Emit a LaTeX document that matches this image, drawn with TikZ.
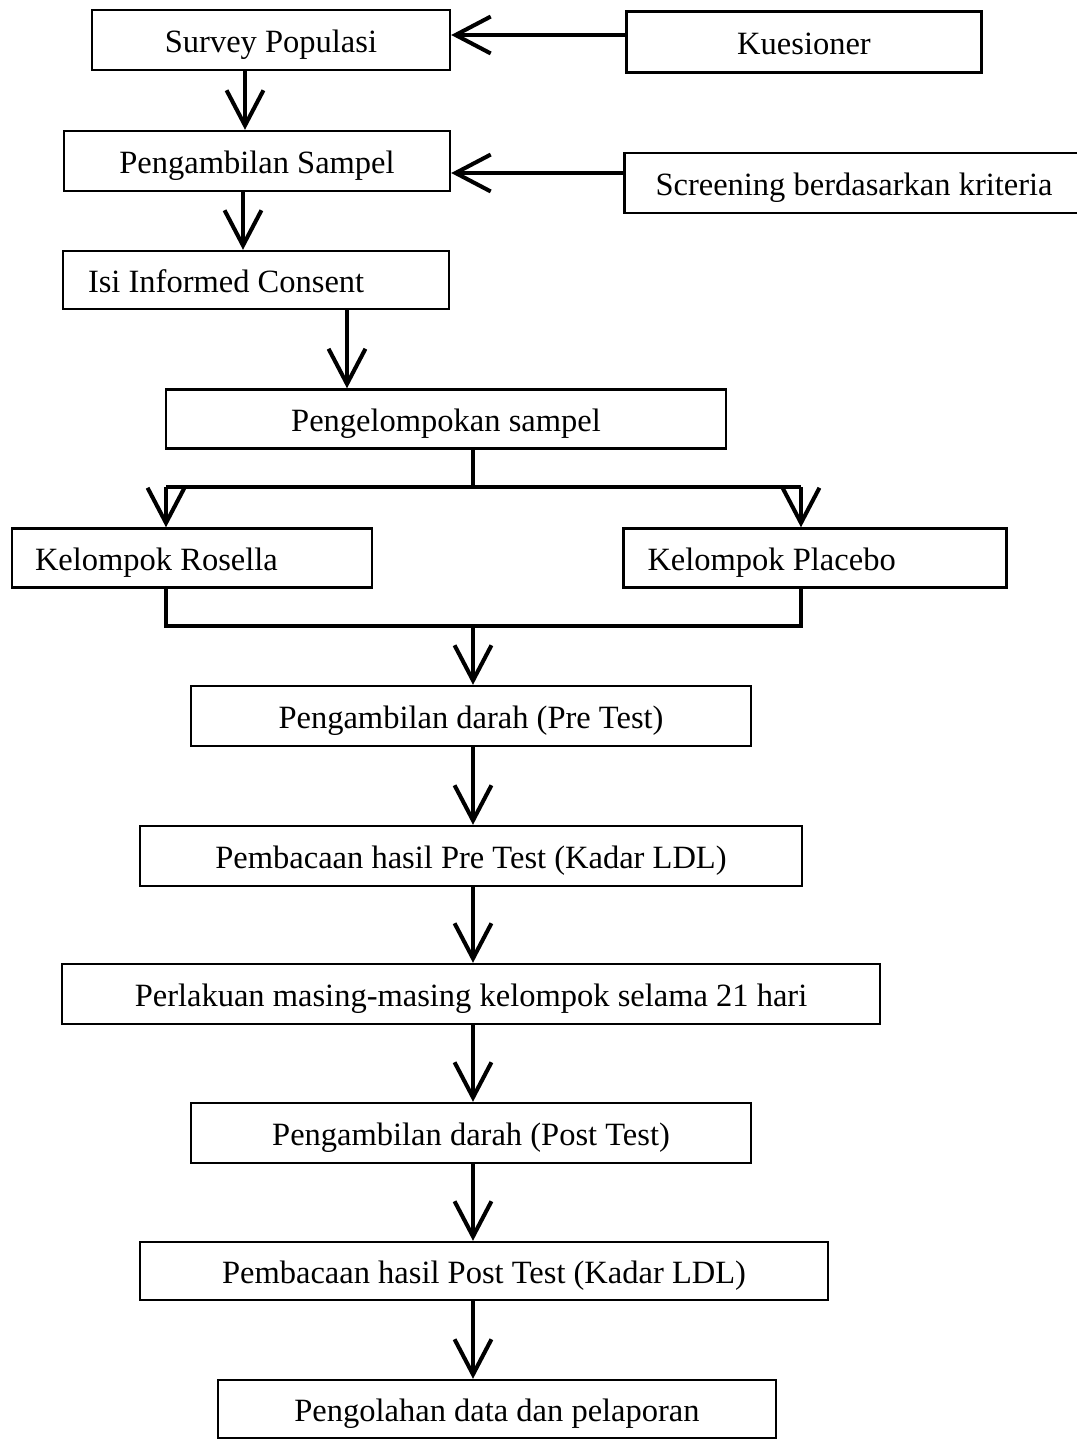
\documentclass[tikz,border=0pt]{standalone}
\usepackage{fontspec}
\setmainfont{Liberation Serif}
\usetikzlibrary{positioning,calc,arrows.meta}
\newcommand{\px}{0.02cm}

\begin{document}
\begin{tikzpicture}[x=0.02cm, y=-0.02cm,
    box/.style={draw, line width=1.4pt, minimum height=60*\px, inner ysep=0pt,
        text height=14pt, text depth=0pt, font=\fontsize{18.5}{22}\selectfont},
    lbox/.style={box, align=flush left},
    line/.style={line width=2.3pt},
    arr/.style={line width=2.3pt, -{Straight Barb[length=20pt,width=21pt]}}]
    \useasboundingbox (0,0) rectangle (1076,1444);

    % Top part
    \node[box, minimum width=358*\px] (survey) at (271,40) {Survey Populasi};
    \node[box, minimum width=355*\px, minimum height=61*\px] (kues) at (804,42) {Kuesioner};
    \node[box, minimum width=386*\px] (sampel) at (257,161) {Pengambilan Sampel};
    \node[lbox, inner xsep=31*\px, text width=413*\px] (screen) at (862,183) {Screening berdasarkan kriteria};
    \node[lbox, minimum height=58*\px, inner xsep=25*\px, text width=336*\px] (consent) at (256,280) {Isi Informed Consent};

    % Groups
    \node[box, minimum width=560*\px, minimum height=59*\px] (kelompok) at (446,419) {Pengelompokan sampel};
    \node[lbox, minimum height=59*\px, inner xsep=23*\px, text width=314*\px] (rosella) at (192,558) {Kelompok Rosella};
    \node[lbox, minimum height=59*\px, inner xsep=24*\px, text width=335*\px] (placebo) at (815,558) {Kelompok Placebo};

    % Tests
    \node[box, minimum width=560*\px] (pre) at (471,716) {Pengambilan darah (Pre Test)};
    \node[box, minimum width=662*\px] (bacapre) at (471,856) {Pembacaan hasil Pre Test (Kadar LDL)};
    \node[box, minimum width=818*\px] (perlakuan) at (471,994) {Perlakuan masing-masing kelompok selama 21 hari};
    \node[box, minimum width=560*\px] (post) at (471,1133) {Pengambilan darah (Post Test)};
    \node[box, minimum width=688*\px, minimum height=58*\px] (bacapost) at (484,1271) {Pembacaan hasil Post Test (Kadar LDL)};
    \node[box, minimum width=558*\px, minimum height=58*\px] (olah) at (497,1409) {Pengolahan data dan pelaporan};

    % Columns of the arrows
    \coordinate (colA) at (245,0);
    \coordinate (colB) at (243,0);
    \coordinate (colC) at (347,0);
    \coordinate (fork) at (473,487);
    \coordinate (forkL) at (166,487);
    \coordinate (forkR) at (801,487);
    \coordinate (join) at (473,626);
    \coordinate (joinL) at (166,626);
    \coordinate (joinR) at (801,626);

    % Side inputs
    \draw[arr] (kues.west |- 0,35) -- (survey.east |- 0,35);
    \draw[arr] (screen.west |- 0,173) -- (sampel.east |- 0,173);

    % Main flow
    \draw[arr] (survey.south -| colA) -- (sampel.north -| colA);
    \draw[arr] (sampel.south -| colB) -- (consent.north -| colB);
    \draw[arr] (consent.south -| colC) -- (kelompok.north -| colC);
    \draw[line] (kelompok.south -| fork) -- (fork);
    \draw[line] (forkL) -- (forkR);
    \draw[arr] (forkL) -- (rosella.north -| forkL);
    \draw[arr] (forkR) -- (placebo.north -| forkR);
    \draw[line] (rosella.south -| joinL) -- (joinL) -- (joinR) -- (placebo.south -| joinR);
    \draw[arr] (join) -- (pre.north -| join);
    \draw[arr] (pre.south -| join) -- (bacapre.north -| join);
    \draw[arr] (bacapre.south -| join) -- (perlakuan.north -| join);
    \draw[arr] (perlakuan.south -| join) -- (post.north -| join);
    \draw[arr] (post.south -| join) -- (bacapost.north -| join);
    \draw[arr] (bacapost.south -| join) -- (olah.north -| join);
\end{tikzpicture}
\end{document}
